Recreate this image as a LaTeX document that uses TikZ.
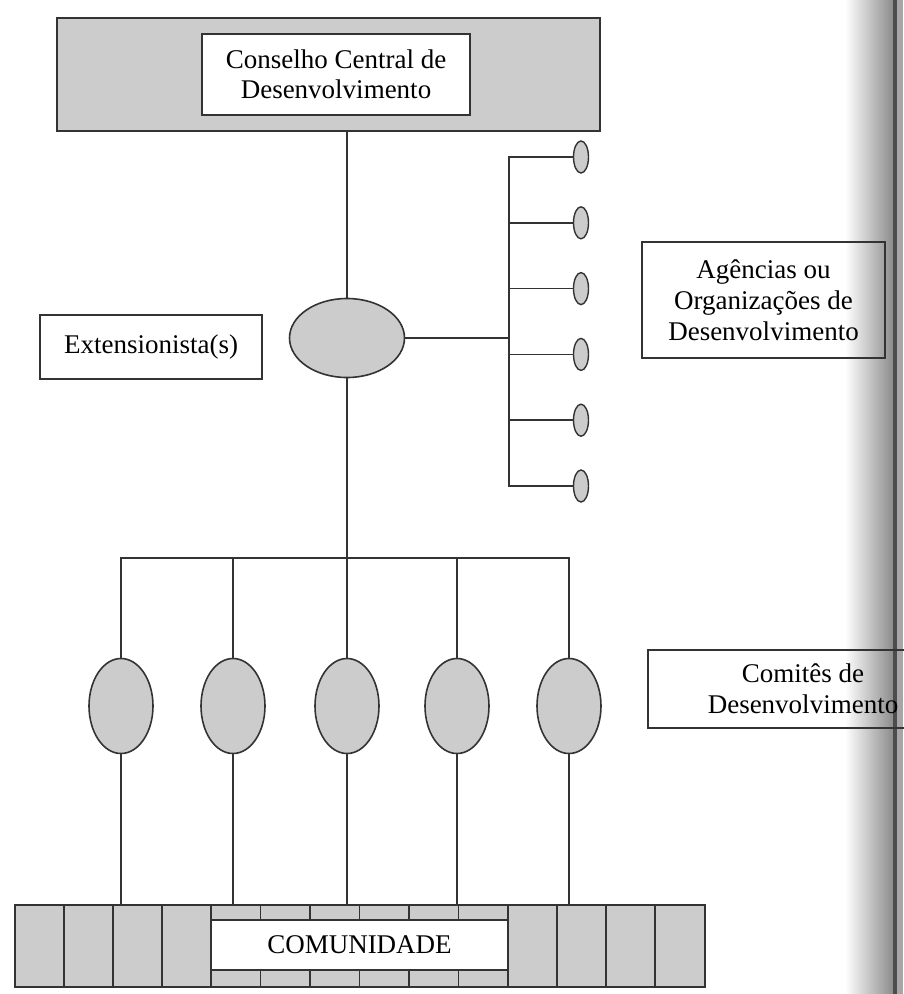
\documentclass[tikz,border=0pt]{standalone}
\usepackage{fontspec}
\setmainfont{Liberation Serif}
\usetikzlibrary{shapes.geometric}
\begin{document}
\begin{tikzpicture}[x=1pt,y=-1pt,
  line/.style={draw=black!80, line width=1.6pt},
  box/.style={draw=black!80, line width=1.6pt, rectangle, inner sep=0pt, align=center,
    font=\fontsize{27}{31}\selectfont},
  bigell/.style={ellipse, draw=black!80, line width=1.6pt, fill=black!20, inner sep=0pt,
    minimum width=115pt, minimum height=79pt},
  smallell/.style={ellipse, draw=black!80, line width=1.4pt, fill=black!20, inner sep=0pt,
    minimum width=15pt, minimum height=32pt},
  comell/.style={ellipse, draw=black!80, line width=1.6pt, fill=black!20, inner sep=0pt,
    minimum width=64pt, minimum height=95pt},
]
\useasboundingbox (0,0) rectangle (903,994);
\fill[white] (0,0) rectangle (903,994);
% page shadow at the right edge
\shade[left color=white, right color=black!45] (845,0) rectangle (893,994);
\fill[black!70] (893,0) rectangle (897,994);
\fill[black!35] (897,0) rectangle (903,994);

% top council
\node[box, fill=black!20, minimum width=543pt, minimum height=113pt] (cc) at (328.5,74.5) {};
\node[box, fill=white, minimum width=268pt, minimum height=81pt,
  font=\fontsize{27}{30}\selectfont] (ccin) at (336,74.5) {Conselho Central de\\Desenvolvimento};

% extension worker
\node[bigell] (ext) at (347,338) {};
\node[box, minimum width=222pt, minimum height=64pt] (extlab) at (151,347) {Extensionista(s)};
\draw[line] (ext.north) -- (ext.north |- cc.south);

% agencies
\coordinate (busx) at (509,0);
\foreach \k in {1,...,6} {
  \node[smallell] (a\k) at (581,{157+65.8*(\k-1)}) {};
}
\draw[line] (a1.west) -- (a1.west -| busx) -- (a6.west -| busx) -- (a6.west);
\foreach \k in {2,...,5} { \draw[line] (a\k.west) -- (a\k.west -| busx); }
\draw[line] (ext.east) -- (ext.east -| busx);
\node[box, minimum width=243pt, minimum height=116pt] (aglab) at (763.5,300)
  {Agências ou\\Organizações de\\Desenvolvimento};

% committees
\coordinate (lbus) at (0,558);
\foreach \k/\x in {1/121,2/233,3/347,4/457,5/569} {
  \node[comell] (c\k) at (\x,706) {};
}
\draw[line] (c1.north) -- (c1.north |- lbus) -- (c5.north |- lbus) -- (c5.north);
\foreach \k in {2,4} { \draw[line] (c\k.north) -- (c\k.north |- lbus); }
\draw[line] (ext.south) -- (c3.north);
\node[box, minimum width=310pt, minimum height=78pt] (comlab) at (803,689)
  {Comitês de\\Desenvolvimento};

% community
\node[box, fill=black!20, minimum width=690pt, minimum height=82pt] (bar) at (360,946) {};
\foreach \x in {64,113,162,211,508,557,606,655} { \draw[line] (\x,905) -- (\x,987); }
\foreach \x in {260.5,310,359.5,409,458.5} {
  \draw[line] (\x,905) -- (\x,920);
  \draw[line] (\x,970) -- (\x,987);
}
\node[box, fill=white, minimum width=297pt, minimum height=50pt] (com) at (359.5,945) {COMUNIDADE};
\foreach \k in {1,...,5} { \draw[line] (c\k.south) -- (c\k.south |- bar.north); }
\end{tikzpicture}
\end{document}
